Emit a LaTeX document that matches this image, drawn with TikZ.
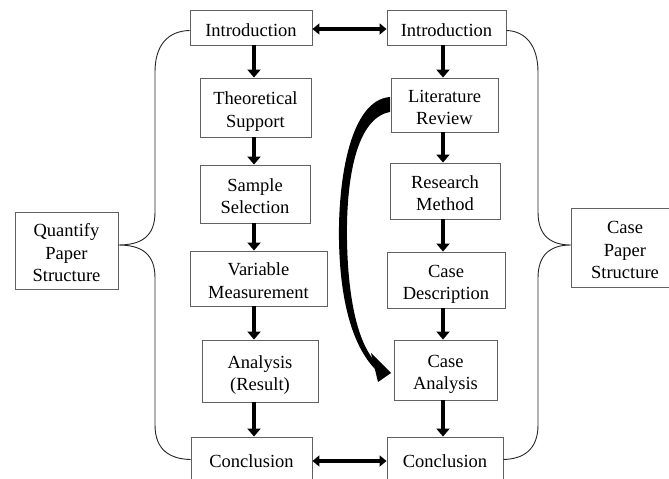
\documentclass[tikz,border=0pt]{standalone}
\usepackage{fontspec}
\setmainfont{Liberation Serif}
\usetikzlibrary{arrows.meta}
\newcommand\tstrut{\rule{0pt}{22pt}}
\newcommand\bstrut{\rule[-5pt]{0pt}{5pt}}
\tikzset{
  box/.style={draw=black!62, line width=0.9pt, inner sep=0pt, align=center,
    font=\fontsize{18.5}{22.5}\selectfont, text=black},
  arr/.style={line width=4pt, -{Triangle[width=13pt,length=8pt]}},
  darr/.style={line width=4pt, {Triangle[width=11pt,length=7pt]}-{Triangle[width=11pt,length=7pt]}},
  brace/.style={draw=black!85, line width=0.9pt}
}
\begin{document}
\begin{tikzpicture}[x=1pt,y=-1pt]
\useasboundingbox (0,0) rectangle (669,479);
\clip (0,0) rectangle (669,479);
% left column
\node[box, minimum width=122pt, minimum height=35pt] (introL) at (251,27.5) {\tstrut Introduction\bstrut};
\node[box, minimum width=111pt, minimum height=59pt] (theo) at (255.5,107.5) {\tstrut Theoretical\\Support\bstrut};
\node[box, minimum width=110pt, minimum height=58pt] (sample) at (255,194) {\tstrut Sample\\Selection\bstrut};
\node[box, minimum width=137pt, minimum height=55pt] (var) at (258.5,278.5) {\tstrut Variable\\Measurement\bstrut};
\node[box, minimum width=116pt, minimum height=62pt] (anal) at (260,371) {\tstrut Analysis\\(Result)\bstrut};
\node[box, minimum width=121pt, minimum height=43pt] (conclL) at (251.5,458.5) {\tstrut Conclusion\bstrut};
% right column
\node[box, minimum width=119pt, minimum height=35pt] (introR) at (446.5,27.5) {\tstrut Introduction\bstrut};
\node[box, minimum width=107pt, minimum height=54pt] (lit) at (444.5,105) {\tstrut Literature\\Review\bstrut};
\node[box, minimum width=110pt, minimum height=56pt] (meth) at (445,191) {\tstrut Research\\Method\bstrut};
\node[box, minimum width=118pt, minimum height=56pt] (desc) at (446,280) {\tstrut Case\\Description\bstrut};
\node[box, minimum width=103pt, minimum height=60pt] (canal) at (445.5,370) {\tstrut Case\\Analysis\bstrut};
\node[box, minimum width=116pt, minimum height=43pt] (conclR) at (445,458.5) {\tstrut Conclusion\bstrut};
% side boxes
\node[box, minimum width=103pt, minimum height=77pt] (quant) at (66.5,250.5) {\tstrut Quantify\\Paper\\Structure\bstrut};
\node[box, minimum width=108pt, minimum height=79pt] (casePS) at (625,247.5) {\tstrut Case\\Paper\\Structure\bstrut};
% column coordinates
\coordinate (colL) at (254,0);
\coordinate (colR) at (443,0);
\coordinate (cuspL) at (118,245);
\coordinate (cuspR) at (571,245);
% vertical arrows
\draw[arr] (introL.south -| colL) -- (theo.north -| colL);
\draw[arr] (theo.south -| colL) -- (sample.north -| colL);
\draw[arr] (sample.south -| colL) -- (var.north -| colL);
\draw[arr] (var.south -| colL) -- (anal.north -| colL);
\draw[arr] (anal.south -| colL) -- (conclL.north -| colL);
\draw[arr] (introR.south -| colR) -- (lit.north -| colR);
\draw[arr] (lit.south -| colR) -- (meth.north -| colR);
\draw[arr] (meth.south -| colR) -- (desc.north -| colR);
\draw[arr] (desc.south -| colR) -- (canal.north -| colR);
\draw[arr] (canal.south -| colR) -- (conclR.north -| colR);
% horizontal double arrows
\draw[darr] ([yshift=-1.5pt]introL.east) -- ([yshift=-1.5pt]introR.west);
\draw[darr] ([yshift=-2.5pt]conclL.east) -- ([yshift=-2.5pt]conclR.west);
% braces
\draw[brace] ([yshift=-3pt]introL.west) .. controls (168,31) and (155,45) .. (155,72) -- (155,212)
  .. controls (155,236) and (142,245) .. (cuspL)
  .. controls (142,245) and (155,254) .. (155,278) -- (155,425)
  .. controls (155,450) and (170,459) .. ([yshift=-1pt]conclL.west);
\draw[brace] ([yshift=-3pt]introR.east) .. controls (525,31) and (538,45) .. (538,72) -- (538,212)
  .. controls (538,236) and (551,245) .. (cuspR)
  .. controls (551,245) and (538,254) .. (538,278) -- (538,425)
  .. controls (538,450) and (523,459) .. ([yshift=-1pt]conclR.east);
% curved arrow
\fill[black] (390,97) .. controls (350,100) and (338,180) .. (339,240)
  .. controls (340,300) and (352,345) .. (375,369)
  -- (373,359) .. controls (358,340) and (348,300) .. (347,240)
  .. controls (346,180) and (356,118) .. (390,112) -- cycle;
\fill[black] (371,353) -- (391,373) -- (378,382) -- cycle;
\end{tikzpicture}
\end{document}
